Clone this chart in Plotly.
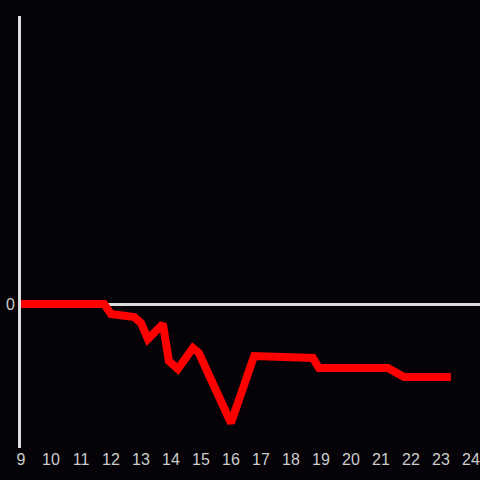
import plotly.graph_objects as go

hours = [9.0, 11.77, 12.0, 12.77, 13.0, 13.23, 13.73, 13.93, 14.23, 14.73, 14.93,
         15.67, 16.0, 16.77, 18.27, 18.73, 18.93, 21.23, 21.77, 23.33]
values = [0.0, 0.0, -1.0, -1.3, -1.9, -3.5, -2.0, -5.7, -6.5, -4.4, -4.9,
          -9.7, -11.9, -5.2, -5.2, -5.4, -6.4, -6.4, -7.3, -7.3]
tick_vals = list(range(9, 25))

fig = go.Figure()
fig.add_trace(go.Scatter(x=hours, y=values, mode="lines",
                         line=dict(color="#ff0000", width=8),
                         hoverinfo="skip"))

fig.update_layout(
    width=480, height=480,
    margin=dict(l=21, r=0, t=16, b=32),
    paper_bgcolor="#050307", plot_bgcolor="#050307",
    showlegend=False,
    font=dict(family="Liberation Sans", size=16, color="#cccccc"),
    xaxis=dict(range=[9, 24.3], tickvals=tick_vals, showgrid=False,
               zeroline=False, showline=False, ticks="", ticklen=0,
               tickfont=dict(size=16, color="#cccccc")),
    yaxis=dict(range=[-14.4, 28.8], tickvals=[0], ticktext=["0"], showgrid=False,
               zeroline=True, zerolinecolor="#dddddd", zerolinewidth=3,
               showline=True, linecolor="#dddddd", linewidth=3,
               ticks="", tickfont=dict(size=16, color="#cccccc")),
)

fig.write_html("out.html", config={"displayModeBar": False},
               post_script="document.body.style.margin='0';document.body.style.background='#050307';")
